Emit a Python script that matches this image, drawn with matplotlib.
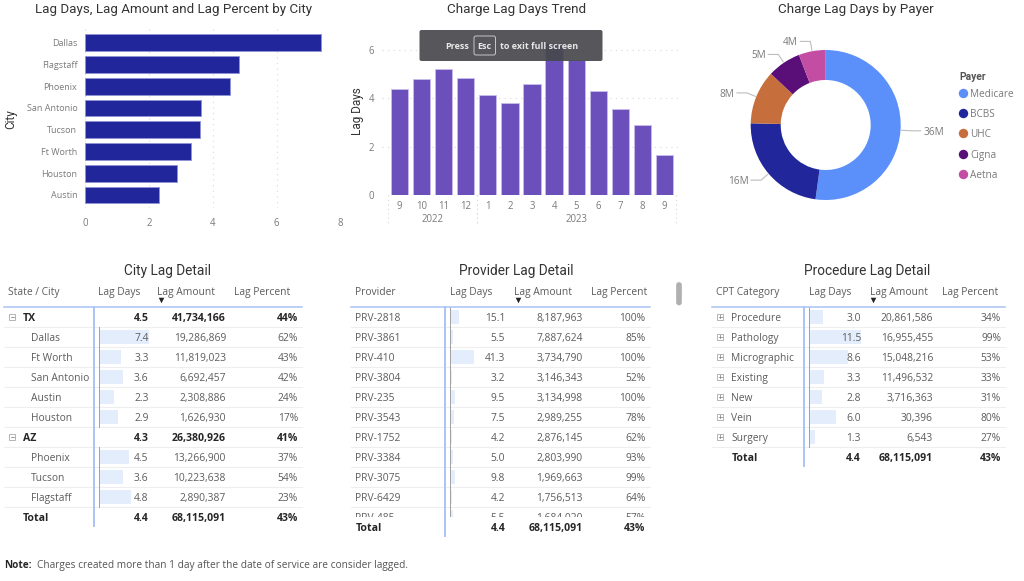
import matplotlib
matplotlib.use("Agg")
import numpy as np
import matplotlib.pyplot as plt
from matplotlib.patches import Rectangle, FancyBboxPatch

# bar chart
cities = ["Dallas", "Flagstaff", "Phoenix", "San Antonio", "Tucson", "Ft Worth", "Houston", "Austin"]
city_lag = [7.38, 4.83, 4.53, 3.62, 3.61, 3.33, 2.89, 2.33]

# trend
months = ["9", "10", "11", "12", "1", "2", "3", "4", "5", "6", "7", "8", "9"]
month_lag = [4.4, 4.8, 5.2, 4.85, 4.15, 3.8, 4.6, 6.3, 5.6, 4.3, 3.55, 2.9, 1.65]
years = ["2022", "2023"]
year_spans = [(0, 3), (4, 12)]

# donut
payers = ["Medicare", "BCBS", "UHC", "Cigna", "Aetna"]
payer_amount = [36, 16, 8, 5, 4]
payer_colors = ["#5b8ff9", "#21279a", "#c76f3c", "#5a0f78", "#c24da3"]

# tables
headers_city = ["State / City", "Lag Days", "Lag Amount", "Lag Percent"]
city_names = ["TX", "Dallas", "Ft Worth", "San Antonio", "Austin", "Houston", "AZ", "Phoenix", "Tucson", "Flagstaff"]
city_states = ["TX", "AZ"]
city_days = [4.5, 7.4, 3.3, 3.6, 2.3, 2.9, 4.3, 4.5, 3.6, 4.8]
city_amount = [41734166, 19286869, 11819023, 6692457, 2308886, 1626930, 26380926, 13266900, 10223638, 2890387]
city_pct = [44, 62, 43, 42, 24, 17, 41, 37, 54, 23]

headers_prov = ["Provider", "Lag Days", "Lag Amount", "Lag Percent"]
prov_names = ["PRV-2818", "PRV-3861", "PRV-410", "PRV-3804", "PRV-235", "PRV-3543", "PRV-1752", "PRV-3384",
              "PRV-3075", "PRV-6429", "PRV-485"]
prov_days = [15.1, 5.5, 41.3, 3.2, 9.5, 7.5, 4.2, 5.0, 9.8, 4.2, 5.5]
prov_amount = [8187963, 7887624, 3734790, 3146343, 3134998, 2989255, 2876145, 2803990, 1969663, 1756513, 1684020]
prov_pct = [100, 85, 100, 52, 100, 78, 62, 93, 99, 64, 57]

headers_proc = ["CPT Category", "Lag Days", "Lag Amount", "Lag Percent"]
proc_names = ["Procedure", "Pathology", "Micrographic", "Existing", "New", "Vein", "Surgery"]
proc_days = [3.0, 11.5, 8.6, 3.3, 2.8, 6.0, 1.3]
proc_amount = [20861586, 16955455, 15048216, 11496532, 3716363, 30396, 6543]
proc_pct = [34, 99, 53, 33, 31, 80, 27]

total_days = 4.4
total_amount = 68115091
total_pct = 43

TITLE_FONT = "Roboto"
BODY_FONT = "Open Sans"
TITLE_COLOR = "#333333"
GRAY = "#7a7a7a"
TABLE_TEXT = "#5c5c5c"
DARK = "#262626"
BLUE_LINE = "#a9c4f5"
ROW_LINE = "#eeeeee"
DATA_BAR = "#e3edfc"
GRID = "#d9d9d9"
AXIS_SIZE = 6.9
W, H = 1024, 581

fig = plt.figure(figsize=(W / 100, H / 100), dpi=100, facecolor="white")


def px_axes(left, top, right, bottom):
    return fig.add_axes([left / W, 1 - bottom / H, (right - left) / W, (bottom - top) / H])


def clean(ax):
    for s in ax.spines.values():
        s.set_visible(False)
    ax.tick_params(length=0, labelsize=AXIS_SIZE, labelcolor=GRAY)
    for lab in ax.get_xticklabels() + ax.get_yticklabels():
        lab.set_fontfamily(BODY_FONT)


# horizontal bars
ax1 = px_axes(85, 29, 340.6, 208)
ax1.barh(range(len(cities)), city_lag, height=0.77, color="#21279a", edgecolor="#8f93d6", linewidth=0.6, zorder=3)
ax1.set_xlim(0, 8)
ax1.set_ylim(7.6, -0.63)
ax1.set_xticks([0, 2, 4, 6, 8])
ax1.set_yticks(range(len(cities)))
ax1.set_yticklabels(cities)
ax1.grid(axis="x", color=GRID, linestyle=(0, (1, 4)), linewidth=0.8, zorder=0)
clean(ax1)
ax1.tick_params(axis="x", pad=7)
ax1.tick_params(axis="y", pad=5.5, labelsize=6.5)

# trend columns
ax2 = px_axes(382, 35, 682, 195)
x_pos = np.arange(len(months))
ax2.bar(x_pos, month_lag, width=0.79, color="#6b4fbb", edgecolor="#c9bdec", linewidth=0.6, zorder=3)
ax2.set_xlim(-0.78, 12.78)
ax2.set_ylim(0, 6.62)
ax2.set_xticks(x_pos)
ax2.set_xticklabels(months)
ax2.set_yticks([0, 2, 4, 6])
ax2.grid(axis="y", color=GRID, linestyle=(0, (1, 4)), linewidth=0.8, zorder=0)
clean(ax2)
ax2.tick_params(axis="x", pad=4)
ax2.tick_params(axis="y", pad=5.5)
for name, (a, b) in zip(years, year_spans):
    ax2.text((a + b) / 2, -0.95, name, ha="center", va="center_baseline", fontsize=AXIS_SIZE, color=GRAY,
             family=BODY_FONT, clip_on=False)
    for edge in (a - 0.5, b + 0.5):
        ax2.plot([edge, edge], [0, -1.3], color=GRID, linestyle=(0, (1, 3)), linewidth=0.8, clip_on=False)

# donut
ax3 = px_axes(725.7, 25, 925.7, 225)
wedges, _ = ax3.pie(payer_amount, colors=payer_colors, startangle=90, counterclock=False, radius=75,
                    wedgeprops=dict(width=30, linewidth=0), frame=True)
ax3.set_xlim(-100, 100)
ax3.set_ylim(-100, 100)
ax3.axis("off")
for w, amt in zip(wedges, payer_amount):
    mid = np.deg2rad((w.theta1 + w.theta2) / 2)
    cx, cy = np.cos(mid), np.sin(mid)
    side = 1 if cx > 0 else -1
    ex, ey = 85 * cx, 85 * cy
    ax3.plot([76 * cx, ex, ex + side * 10], [76 * cy, ey, ey], color="#bdbdbd", linewidth=0.8, clip_on=False)
    ax3.text(ex + side * 12.5, ey, f"{amt}M", ha="left" if side > 0 else "right", va="center_baseline",
             fontsize=7.2, color=GRAY, family=BODY_FONT, clip_on=False)

# everything else is drawn in pixel coordinates on top
ov = fig.add_axes([0, 0, 1, 1])
ov.set_xlim(0, W)
ov.set_ylim(H, 0)
ov.axis("off")
ov.patch.set_alpha(0)


def title(x, y, s, size=9.8):
    ov.text(x, y, s, ha="center", va="center_baseline", fontsize=size, color=TITLE_COLOR, family=TITLE_FONT)


def expand_box(x, y, minus):
    ov.add_patch(Rectangle((x - 3, y - 3), 6, 6, fill=False, edgecolor="#a8a8a8", linewidth=0.6))
    ov.plot([x - 1.5, x + 1.5], [y, y], color="#8a8a8a", linewidth=0.6)
    if not minus:
        ov.plot([x, x], [y - 1.5, y + 1.5], color="#8a8a8a", linewidth=0.6)


def cell(x, y, s, ha="right", bold=False, z=4):
    ov.text(x, y, s, ha=ha, va="center_baseline", fontsize=7.6 if bold else 7.35, family=BODY_FONT,
            fontweight="bold" if bold else "normal", color=DARK if bold else TABLE_TEXT, zorder=z)


def header(xs, labels, x0, x1, vline, bottom, caret_x):
    for x, s in zip(xs, labels):
        cell(x, 291, s, ha="left")
    ov.scatter([caret_x], [299.7], marker="v", s=16, color="#222222", linewidths=0, zorder=5)
    ov.plot([x0, x1], [306.7, 306.7], color=BLUE_LINE, linewidth=1.1, zorder=6)
    ov.plot([vline, vline], [306.7, bottom], color=BLUE_LINE, linewidth=1.4, zorder=6)


def data_bar(x, y, days, scale):
    ov.add_patch(Rectangle((x, y - 7), days * scale, 14, color=DATA_BAR, linewidth=0, zorder=2))
    ov.plot([x, x], [y - 10, y + 10], color="#a0a0a0", linewidth=0.7, zorder=3)


def fmt_row(y, days, amount, pct, cols, bold=False, z=4):
    cell(cols[0], y, f"{days:.1f}", bold=bold, z=z)
    cell(cols[1], y, f"{amount:,}", bold=bold, z=z)
    cell(cols[2], y, f"{pct}%", bold=bold, z=z)


ROW0 = 317.3
ROW_H = 20.0

# city table
title(167, 270, "City Lag Detail")
header([8, 98, 157, 234], headers_city, 4, 302, 94, 526, 160.6)
cols = (148.7, 226, 298)
for i, name in enumerate(city_names):
    y = ROW0 + i * ROW_H
    is_state = name in city_states
    ov.plot([4, 302], [y + 9.4, y + 9.4], color=ROW_LINE, linewidth=0.8, zorder=1)
    if is_state:
        expand_box(12, y - 0.5, True)
        cell(23, y, name, ha="left", bold=True)
    else:
        data_bar(99, y, city_days[i], 6.7)
        cell(31, y, name, ha="left")
    fmt_row(y, city_days[i], city_amount[i], city_pct[i], cols, bold=is_state)
y = ROW0 + len(city_names) * ROW_H
cell(23, y, "Total", ha="left", bold=True)
fmt_row(y, total_days, total_amount, total_pct, cols, bold=True)

# provider table, last row is cut off by the scroll area
title(516.7, 270, "Provider Lag Detail")
header([355.3, 449.7, 514, 591], headers_prov, 351, 650, 444.7, 535.7, 517.5)
cols = (505.3, 582.7, 645.7)
for i, name in enumerate(prov_names):
    y = ROW0 + i * ROW_H
    if i < len(prov_names) - 1:
        ov.plot([351, 650], [y + 9.4, y + 9.4], color=ROW_LINE, linewidth=0.8, zorder=1)
    data_bar(449.7, y, prov_days[i], 0.59)
    cell(355.3, y, name, ha="left")
    fmt_row(y, prov_days[i], prov_amount[i], prov_pct[i], cols)
ov.add_patch(Rectangle((351, 516.8), 300, 20, color="white", linewidth=0, zorder=5))
cell(355.3, 527.3, "Total", ha="left", bold=True, z=7)
fmt_row(527.3, total_days, total_amount, total_pct, cols, bold=True, z=7)
ov.add_patch(FancyBboxPatch((677, 283), 4, 21.5, boxstyle="round,pad=0,rounding_size=2", facecolor="#b0b0b0",
                            edgecolor="#b0b0b0", linewidth=1.2))

# procedure table
title(866.7, 270, "Procedure Lag Detail")
header([716, 809, 869.7, 941.7], headers_proc, 712, 1005, 804.3, 465.7, 872.7)
cols = (861, 933, 1001)
for i, name in enumerate(proc_names):
    y = ROW0 + i * ROW_H
    ov.plot([712, 1005], [y + 9.4, y + 9.4], color=ROW_LINE, linewidth=0.8, zorder=1)
    data_bar(809.3, y, proc_days[i], 4.52)
    expand_box(720, y - 0.5, False)
    cell(731.3, y, name, ha="left")
    fmt_row(y, proc_days[i], proc_amount[i], proc_pct[i], cols)
y = ROW0 + len(proc_names) * ROW_H
cell(731.3, y, "Total", ha="left", bold=True)
fmt_row(y, total_days, total_amount, total_pct, cols, bold=True)

# chart titles and axis names
title(174, 8, "Lag Days, Lag Amount and Lag Percent by City", size=9.65)
title(516.5, 8, "Charge Lag Days Trend", size=9.7)
title(856, 8, "Charge Lag Days by Payer", size=9.7)
ov.text(11, 119, "City", rotation=90, ha="center", va="center", fontsize=8.5, color=TITLE_COLOR, family=TITLE_FONT)
ov.text(358, 111, "Lag Days", rotation=90, ha="center", va="center", fontsize=8.5, color=TITLE_COLOR, family=TITLE_FONT)

# legend
ov.text(959, 76, "Payer", ha="left", va="center_baseline", fontsize=7.4, color="#555555", family=TITLE_FONT,
        fontweight="bold")
legend_y = [92.7, 113.3, 133.3, 153.7, 174]
for name, col, y in zip(payers, payer_colors, legend_y):
    ov.scatter([963.3], [y], s=46, color=col, linewidths=0)
    ov.text(970, y, name, ha="left", va="center_baseline", fontsize=7.2, color=GRAY, family=BODY_FONT)

# note
ov.text(4, 564.3, "Note:", ha="left", va="center_baseline", fontsize=7.2, color=DARK, family=BODY_FONT,
        fontweight="bold")
ov.text(37, 564.3, "Charges created more than 1 day after the date of service are consider lagged.", ha="left",
        va="center_baseline", fontsize=7.25, color="#555555", family=BODY_FONT)

# full screen hint
ov.add_patch(FancyBboxPatch((419.5, 30), 183, 31, boxstyle="round,pad=0,rounding_size=2", facecolor="#47484d",
                            edgecolor="none", alpha=0.92, zorder=8))
ov.add_patch(FancyBboxPatch((474, 36), 21.5, 19, boxstyle="round,pad=0,rounding_size=2", fill=False,
                            edgecolor="#c8c8c8", linewidth=0.7, zorder=9))
for x, s, ha in [(457, "Press", "center"), (484.7, "Esc", "center"), (500.3, "to exit full screen", "left")]:
    ov.text(x, 45.5, s, ha=ha, va="center_baseline", fontsize=6.5, color="#e8e8e8", family=BODY_FONT,
            fontweight="bold", zorder=9)

fig.savefig("out.png", dpi=100)
